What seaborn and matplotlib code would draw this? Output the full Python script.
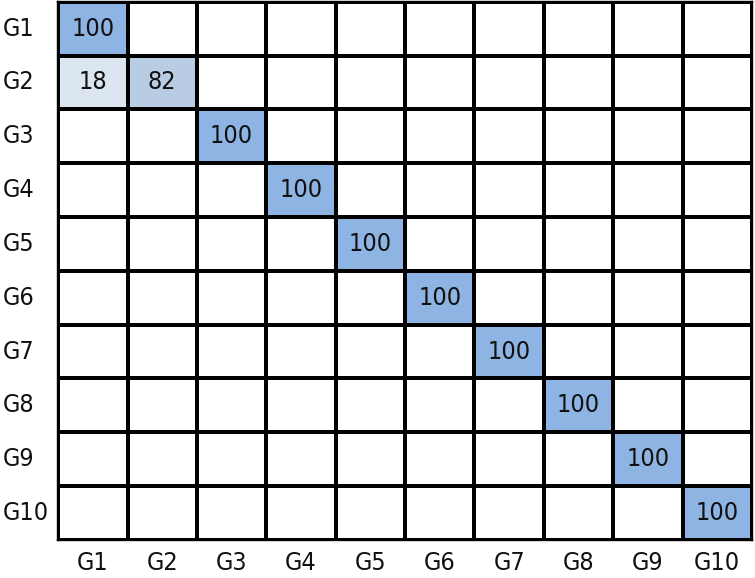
import numpy as np
import pandas as pd
import matplotlib
matplotlib.use("Agg")
import matplotlib.pyplot as plt
from matplotlib.colors import LinearSegmentedColormap
import seaborn as sns

groups = ["G1", "G2", "G3", "G4", "G5", "G6", "G7", "G8", "G9", "G10"]
# percentages per row (true group) -> column (predicted group), blank = 0
rows = [
    [100, 0, 0, 0, 0, 0, 0, 0, 0, 0],
    [18, 82, 0, 0, 0, 0, 0, 0, 0, 0],
    [0, 0, 100, 0, 0, 0, 0, 0, 0, 0],
    [0, 0, 0, 100, 0, 0, 0, 0, 0, 0],
    [0, 0, 0, 0, 100, 0, 0, 0, 0, 0],
    [0, 0, 0, 0, 0, 100, 0, 0, 0, 0],
    [0, 0, 0, 0, 0, 0, 100, 0, 0, 0],
    [0, 0, 0, 0, 0, 0, 0, 100, 0, 0],
    [0, 0, 0, 0, 0, 0, 0, 0, 100, 0],
    [0, 0, 0, 0, 0, 0, 0, 0, 0, 100],
]

df = pd.DataFrame(rows, index=groups, columns=groups)
labels = df.map(lambda v: "" if v == 0 else str(v))

sns.set_style("white")
plt.rcParams['font.family'] = ['DejaVu Sans']
plt.rcParams['font.stretch'] = 'condensed'

cmap = LinearSegmentedColormap.from_list(
    "excel_blue",
    [(0.0, "#FFFFFF"), (0.18, "#DCE6F1"), (0.82, "#B8CCE4"), (1.0, "#8DB4E2")],
)

fig = plt.figure(figsize=(7.55, 5.78), dpi=100)
ax = fig.add_axes([0.077, 0.066, 0.919, 0.931])

sns.heatmap(df, annot=labels, fmt="", cmap=cmap, vmin=0, vmax=100, cbar=False,
            linewidths=1.5, linecolor="black", square=False, ax=ax,
            annot_kws={"fontsize": 18, "color": "#111111", "fontstretch": "condensed"})

for s in ax.spines.values():
    s.set_visible(True)
    s.set_color("black")
    s.set_linewidth(1.7)

ax.tick_params(axis="both", length=0, labelsize=18, colors="#111111")
ax.tick_params(axis="y", pad=40)
ax.tick_params(axis="x", pad=8)
for t in ax.get_yticklabels():
    t.set_rotation(0)
    t.set_ha("left")
    t.set_fontstretch("condensed")
for t in ax.get_xticklabels():
    t.set_rotation(0)
    t.set_fontstretch("condensed")
ax.set_xlabel("")
ax.set_ylabel("")

plt.savefig("out.png", dpi=100)
